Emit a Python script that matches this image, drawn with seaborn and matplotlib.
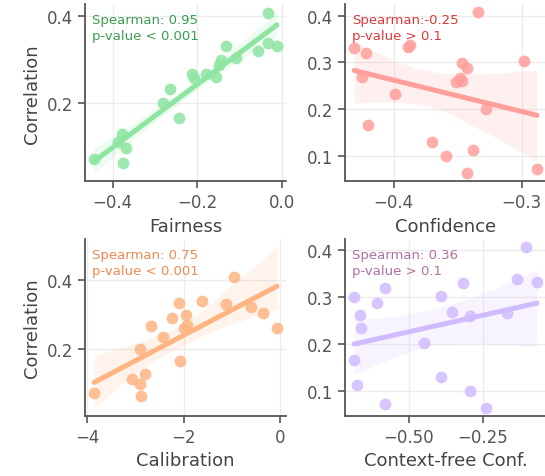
#!/usr/bin/env python3

import pandas as pd
import matplotlib.pyplot as plt
import seaborn as sns

# correlation of each model (same 20 models in every panel)
correlation = [0.407, 0.338, 0.332, 0.330, 0.320, 0.303, 0.299, 0.288, 0.268, 0.266,
               0.261, 0.259, 0.233, 0.201, 0.166, 0.129, 0.112, 0.099, 0.072, 0.063]

fairness = [-0.033, -0.033, -0.132, -0.011, -0.057, -0.109, -0.143, -0.148, -0.180, -0.213,
            -0.155, -0.208, -0.265, -0.281, -0.244, -0.379, -0.387, -0.368, -0.444, -0.375]
confidence = [-0.334, -0.387, -0.389, -0.431, -0.422, -0.298, -0.347, -0.343, -0.425, -0.348,
              -0.347, -0.351, -0.399, -0.328, -0.4205, -0.370, -0.338, -0.359, -0.288, -0.343]
calibration = [-0.958, -1.625, -2.10, -1.12, -0.61, -0.35, -1.96, -2.24, -1.94, -2.68,
               -2.0, -0.069, -2.43, -2.90, -2.08, -2.80, -3.076, -2.90, -3.854, -2.89]
context_free = [-0.102, -0.135, -0.066, -0.316, -0.582, -0.392, -0.685, -0.606, -0.355, -0.168,
                -0.664, -0.293, -0.6625, -0.447, -0.685, -0.392, -0.676, -0.293, -0.582, -0.239]

panels = [
    ("Fairness", fairness, "#8de5a1", "#3a9e52", "Spearman: 0.95\np-value < 0.001",
     [-0.4, -0.2, 0.0], [0.2, 0.4]),
    ("Confidence", confidence, "#ff9f9b", "#d93a3a", "Spearman:-0.25\np-value > 0.1",
     [-0.4, -0.3], [0.1, 0.2, 0.3, 0.4]),
    ("Calibration", calibration, "#ffb482", "#ee8a50", "Spearman: 0.75\np-value < 0.001",
     [-4, -2, 0], [0.2, 0.4]),
    ("Context-free Conf.", context_free, "#d0bbff", "#b070a0", "Spearman: 0.36\np-value > 0.1",
     [-0.5, -0.25], [0.1, 0.2, 0.3, 0.4]),
]

sns.set_theme(style="ticks")
sns.set_style("ticks", {"axes.grid": True, "grid.color": "#ececec",
                        "axes.edgecolor": "#555555", "xtick.color": "#555555",
                        "ytick.color": "#555555"})
plt.rcParams["font.family"] = ["DejaVu Sans"]

fig = plt.figure(figsize=(5.45, 4.77), dpi=100)
lefts = [0.156, 0.633]
bottoms = [0.618, 0.126]

for i, (name, xs, color, tcolor, note, xticks, yticks) in enumerate(panels):
    ax = fig.add_axes([lefts[i % 2], bottoms[i // 2], 0.369, 0.371])
    df = pd.DataFrame({name: xs, "Correlation": correlation})
    ax.text(0.035, 0.95, note, transform=ax.transAxes, color=tcolor,
            fontsize=9.5, va="top", ha="left", linespacing=1.3, zorder=1)
    sns.regplot(data=df, x=name, y="Correlation", ax=ax, color=color, seed=0,
                scatter_kws={"s": 72, "alpha": 0.85, "linewidths": 0, "zorder": 3},
                line_kws={"linewidth": 3.6, "zorder": 4})
    ax.set_xticks(xticks)
    ax.set_yticks(yticks)
    ax.tick_params(labelsize=12, width=1.2, length=5, labelcolor="#555555")
    ax.set_xlabel(name, fontsize=13, color="#444444")
    if i % 2 == 0:
        ax.set_ylabel("Correlation", fontsize=13, color="#444444")
    else:
        ax.set_ylabel("")
    for sp in ("left", "bottom"):
        ax.spines[sp].set_linewidth(1.3)
    sns.despine(ax=ax)

fig.savefig("out.png", dpi=100)
